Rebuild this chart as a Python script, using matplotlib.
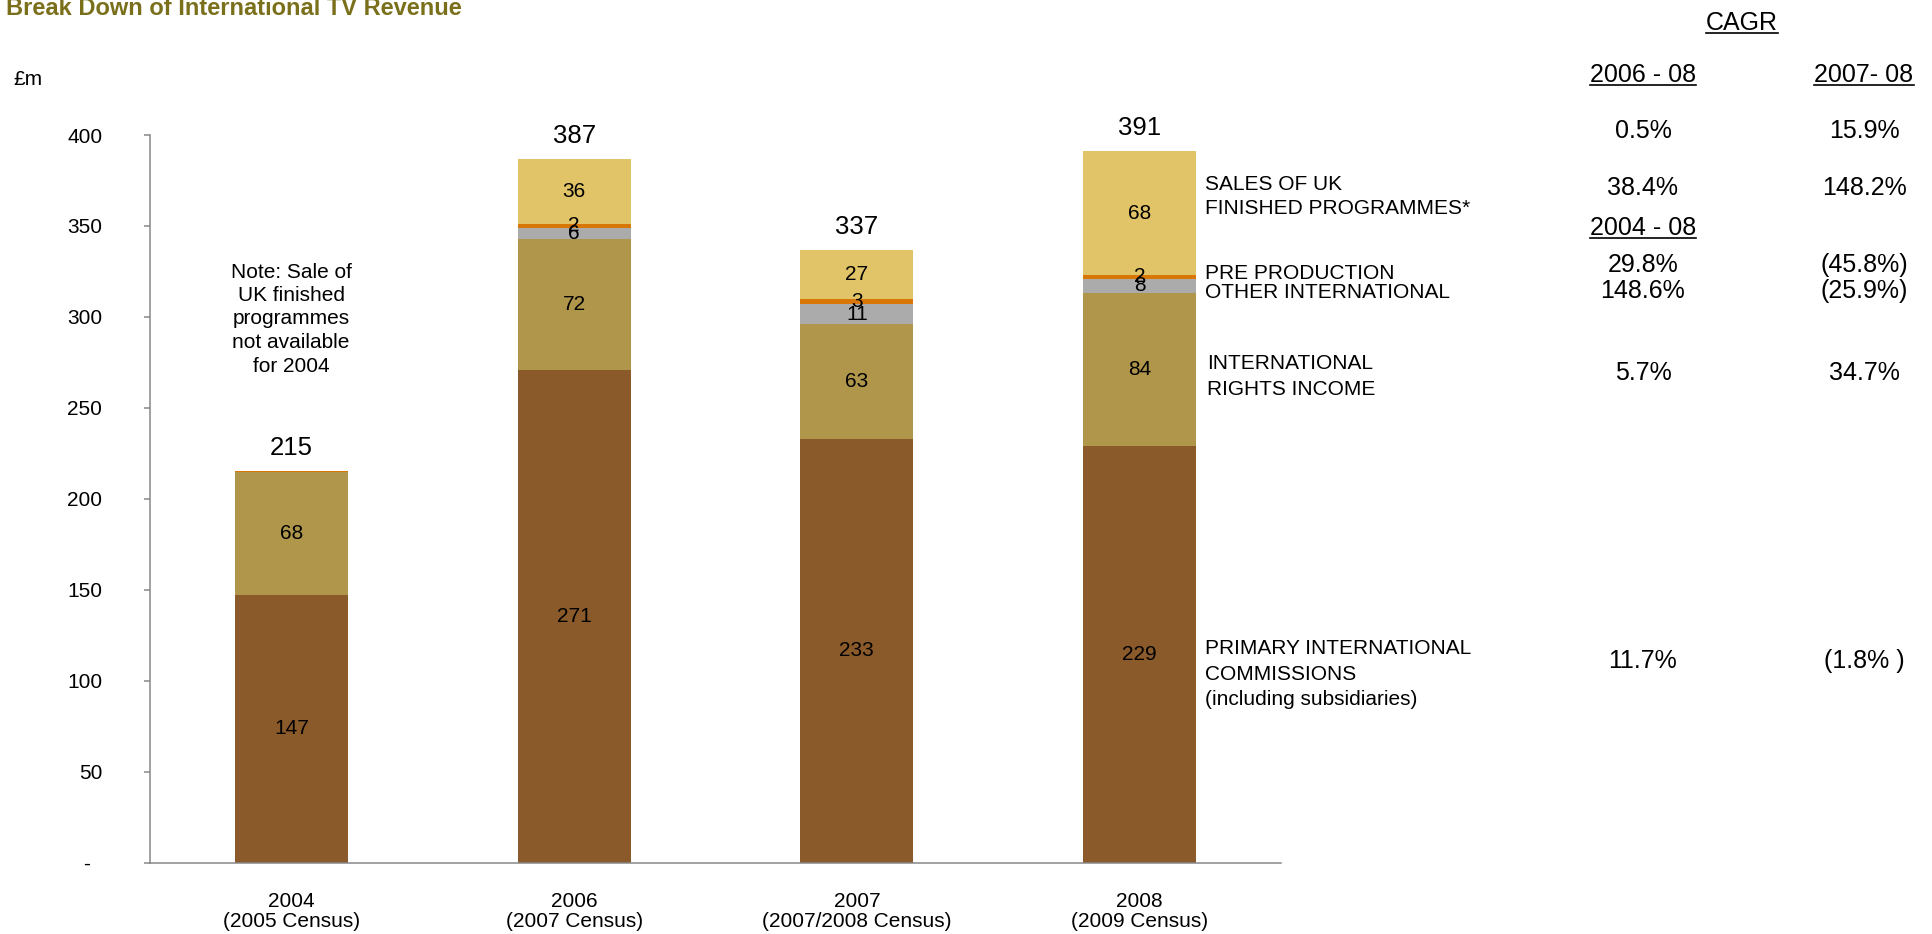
import matplotlib
matplotlib.use("Agg")
import matplotlib.pyplot as plt
from matplotlib.lines import Line2D

plt.rcParams['font.family'] = ['Liberation Sans', 'DejaVu Sans']

# data (GBP m)
years = ["2004\n(2005 Census)", "2006\n(2007 Census)", "2007\n(2007/2008 Census)", "2008\n(2009 Census)"]
primary = [147, 271, 233, 229]
rights = [68, 72, 63, 84]
other = [0, 6, 11, 8]
pre_prod = [0.4, 2, 3, 2]
sales_uk = [0, 36, 27, 68]
totals = [215, 387, 337, 391]

series = [primary, rights, other, pre_prod, sales_uk]
colors = ["#8B5A2B", "#B0964B", "#ABABAB", "#D97706", "#E2C468"]

# CAGR table
cagr_heads = ["2006 - 08", "2007- 08"]
cagr_left = ["0.5%", "38.4%", "29.8%", "148.6%", "5.7%", "11.7%"]
cagr_right = ["15.9%", "148.2%", "(45.8%)", "(25.9%)", "34.7%", "(1.8% )"]
row_base = [138, 195, 272, 298, 380, 668]

W, H = 1932, 934
fig = plt.figure(figsize=(W / 100, H / 100), dpi=100)
ax = fig.add_axes([150 / W, 1 - 862.7 / H, 1131 / W, 727.7 / H])


def fx(x):
    return x / W


def fy(y):
    return 1 - y / H


xs = range(len(years))
bottom = [0] * len(years)
for vals, c in zip(series, colors):
    ax.bar(xs, vals, width=0.4, bottom=bottom, color=c, linewidth=0)
    for i, v in enumerate(vals):
        if v >= 1:
            ax.text(i, bottom[i] + v / 2, str(v), ha="center", va="center", fontsize=15)
    bottom = [b + v for b, v in zip(bottom, vals)]

for i, t in enumerate(totals):
    ax.annotate(str(t), (i, bottom[i]), xytext=(0, 16.5), textcoords="offset points",
                ha="center", va="center", fontsize=18.5)

ax.set_xlim(-0.5, 3.5)
ax.set_ylim(0, 400)
ax.set_xticks(list(xs))
ax.set_xticklabels(years, fontsize=15, linespacing=1.08)
ax.tick_params(axis="x", length=0, pad=21)
ax.set_yticks(range(0, 401, 50))
ax.set_yticklabels(["-  "] + [str(v) for v in range(50, 401, 50)], fontsize=15)
ax.tick_params(axis="y", length=4.3, width=1.1, color="#888888", pad=30)
for s in ["top", "right"]:
    ax.spines[s].set_visible(False)
for s in ["left", "bottom"]:
    ax.spines[s].set_color("#888888")
    ax.spines[s].set_linewidth(1.1)

# title and unit
fig.text(fx(6), fy(15), "Break Down of International TV Revenue", fontsize=17,
         fontweight="bold", color="#7A701C", va="baseline")
fig.text(fx(13), fy(85), "£m", fontsize=15, va="baseline")

# note
fig.text(fx(291), fy(319), "Note: Sale of\nUK finished\nprogrammes\nnot available\nfor 2004",
         ha="center", va="center", fontsize=15, linespacing=1.3)

# segment names
seg_lines = [
    (1205, 190, "SALES OF UK"), (1205, 214, "FINISHED PROGRAMMES*"),
    (1205, 279, "PRE PRODUCTION"), (1205, 298, "OTHER INTERNATIONAL"),
    (1207, 369, "INTERNATIONAL"), (1207, 395, "RIGHTS INCOME"),
    (1205, 654, "PRIMARY INTERNATIONAL"), (1205, 680, "COMMISSIONS"),
    (1205, 705, "(including subsidiaries)"),
]
for x, y, s in seg_lines:
    fig.text(fx(x), fy(y), s, fontsize=15, va="baseline")

# CAGR columns
underlined = [(1742, 30, "CAGR"), (1643, 82, cagr_heads[0]), (1864, 82, cagr_heads[1]),
              (1643, 235, "2004 - 08")]
renderer = fig.canvas.get_renderer()
for x, y, s in underlined:
    t = fig.text(fx(x), fy(y), s, fontsize=18, ha="center", va="baseline")
    bb = t.get_window_extent(renderer)
    fig.add_artist(Line2D([bb.x0 / W, bb.x1 / W], [fy(y + 3), fy(y + 3)],
                          transform=fig.transFigure, color="black", lw=1.2))

for yb, l, r in zip(row_base, cagr_left, cagr_right):
    fig.text(fx(1643), fy(yb), l, fontsize=18, ha="center", va="baseline")
    fig.text(fx(1864), fy(yb), r, fontsize=18, ha="center", va="baseline")

fig.savefig("out.png", dpi=100)
